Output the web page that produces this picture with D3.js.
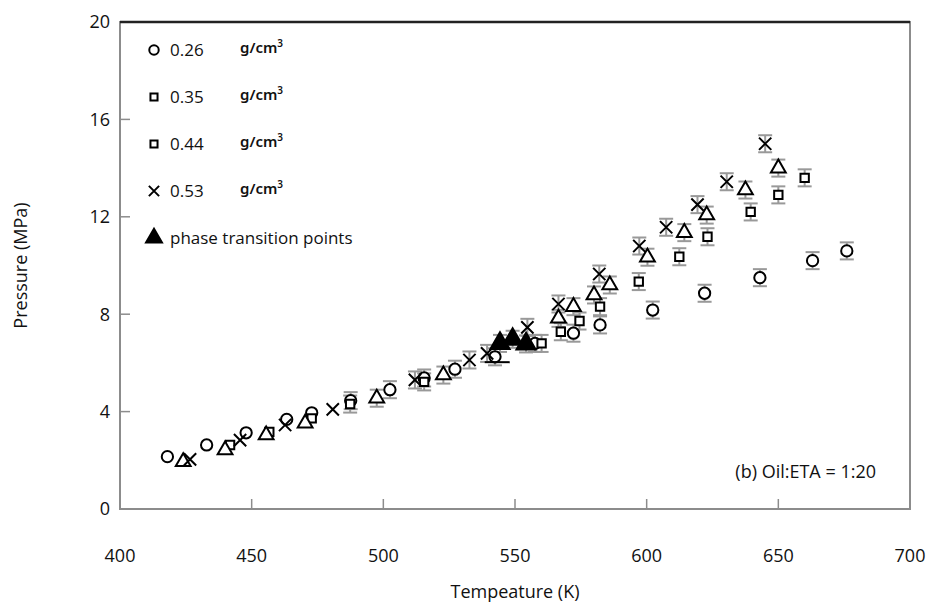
<!DOCTYPE html>
<html>
<head>
<meta charset="utf-8">
<script src="https://cdn.jsdelivr.net/npm/d3@7"></script>
<style>
  body { margin: 0; background: #fff; }
  text { font-family: "Open Sans", "Noto Sans", sans-serif; fill: #111; }
</style>
</head>
<body>
<svg id="chart" width="932" height="610"></svg>
<script>
// data: [temperature K, pressure MPa]
var rho026 = [[418,2.15],[432.9,2.63],[447.9,3.13],[463.3,3.68],[472.8,3.95],[487.6,4.45],[502.5,4.9],
  [515.5,5.38],[527.2,5.74],[542.4,6.25],[557.6,6.8],[572.2,7.22],[582.3,7.56],[602.3,8.17],[622,8.86],
  [643,9.5],[663,10.2],[676,10.6]];
var rho035 = [[441.8,2.63],[456.7,3.17],[472.8,3.72],[487.4,4.31],[515.5,5.22],[560.1,6.8],[567.4,7.28],
  [574.5,7.72],[582.3,8.31],[597,9.34],[612.4,10.36],[623.1,11.18],[639.5,12.2],[650,12.9],[660,13.6]];
var rho044 = [[424,1.94],[439.9,2.42],[455.5,3.04],[470.3,3.52],[497.5,4.55],[522.8,5.5],[566.5,7.83],
  [572.2,8.31],[580,8.79],[586,9.2],[600.3,10.34],[614.3,11.35],[622.8,12.07],[637.5,13.1],[650,14.0]];
var rho053 = [[426.6,2.04],[445.6,2.83],[462.7,3.45],[480.8,4.09],[512,5.3],[532.7,6.12],[539.4,6.39],
  [554.7,7.46],[566.5,8.42],[582,9.65],[597.2,10.8],[607.4,11.57],[619.3,12.5],[630.4,13.44],[645,15.0]];
var phasePts = [[544.3,6.8],[549.1,6.97],[554.2,6.78]];
var strayDash = [[538.5,6.03],[548,6.03]];

var legendLabels = ["0.26", "0.35", "0.44", "0.53", "phase transition points"];
var xTicks = [400, 450, 500, 550, 600, 650, 700];
var yTicks = [0, 4, 8, 12, 16, 20];
var errP = 0.35;   // fixed error bar, shown from 485 K on
var errFrom = 485;

var margin = { top: 22, right: 22, bottom: 101, left: 120 };
var svg = d3.select("#chart");
var width = 932 - margin.left - margin.right;
var height = 610 - margin.top - margin.bottom;

var x = d3.scaleLinear().domain([400, 700]).range([0, width]);
var y = d3.scaleLinear().domain([0, 20]).range([height, 0]);

var g = svg.append("g").attr("transform", "translate(" + margin.left + "," + margin.top + ")");

// frame
g.append("rect").attr("width", width).attr("height", height)
  .attr("fill", "none").attr("stroke", "#8c8c8c").attr("stroke-width", 2);
g.append("line").attr("x1", 0).attr("x2", width).attr("y1", 0).attr("y2", 0)
  .attr("stroke", "#222").attr("stroke-width", 2.5);

// inner ticks
g.selectAll(".yt").data(yTicks.slice(1, -1)).enter().append("line")
  .attr("x1", 0).attr("x2", 10).attr("y1", d => y(d)).attr("y2", d => y(d))
  .attr("stroke", "#8c8c8c").attr("stroke-width", 1.5);
g.selectAll(".xt").data(xTicks.slice(1, -1)).enter().append("line")
  .attr("x1", d => x(d)).attr("x2", d => x(d)).attr("y1", height).attr("y2", height - 10)
  .attr("stroke", "#8c8c8c").attr("stroke-width", 1.5);

// tick labels
g.selectAll(".yl").data(yTicks).enter().append("text")
  .attr("x", -10).attr("y", d => y(d)).attr("dy", "0.35em")
  .attr("text-anchor", "end").attr("font-size", 18).text(d => d);
g.selectAll(".xl").data(xTicks).enter().append("text")
  .attr("x", d => x(d)).attr("y", height + 53)
  .attr("text-anchor", "middle").attr("font-size", 18).text(d => d);

// axis titles
svg.append("text").attr("x", margin.left + width / 2).attr("y", 598)
  .attr("text-anchor", "middle").attr("font-size", 18).text("Tempeature (K)");
svg.append("text").attr("transform", "translate(27," + (margin.top + height / 2) + ") rotate(-90)")
  .attr("text-anchor", "middle").attr("font-size", 18).text("Pressure (MPa)");

// error bars
var allPts = rho026.concat(rho035, rho044, rho053, phasePts).filter(d => d[0] >= errFrom);
var eb = g.append("g").attr("stroke", "#999").attr("stroke-width", 2);
allPts.forEach(function (d) {
  var cx = x(d[0]);
  eb.append("line").attr("x1", cx).attr("x2", cx).attr("y1", y(d[1] - errP)).attr("y2", y(d[1] + errP));
  [d[1] - errP, d[1] + errP].forEach(function (v) {
    eb.append("line").attr("x1", cx - 7).attr("x2", cx + 7).attr("y1", y(v)).attr("y2", y(v));
  });
});

function drawSeries(data, sym, filled) {
  g.append("g").selectAll("path").data(data).enter().append("path")
    .attr("transform", d => "translate(" + x(d[0]) + "," + y(d[1]) + ")")
    .attr("d", sym)
    .attr("fill", filled ? "#000" : "#fff")
    .attr("stroke", "#000").attr("stroke-width", 2);
}
drawSeries(rho026, d3.symbol().type(d3.symbolCircle).size(100), false);
drawSeries(rho035, d3.symbol().type(d3.symbolSquare).size(70), false);
drawSeries(rho044, d3.symbol().type(d3.symbolTriangle).size(95), false);
drawSeries(rho053, d3.symbol().type(d3.symbolTimes).size(100), false);
drawSeries(phasePts, d3.symbol().type(d3.symbolTriangle).size(160), true);

g.append("path").datum(strayDash)
  .attr("d", d3.line().x(d => x(d[0])).y(d => y(d[1])))
  .attr("stroke", "#000").attr("stroke-width", 2).attr("fill", "none");

// legend
var legendSyms = [
  d3.symbol().type(d3.symbolCircle).size(70),
  d3.symbol().type(d3.symbolSquare).size(50),
  d3.symbol().type(d3.symbolSquare).size(50),
  d3.symbol().type(d3.symbolTimes).size(70),
  d3.symbol().type(d3.symbolTriangle).size(110)
];
var lg = svg.append("g");
legendLabels.forEach(function (lab, i) {
  var ly = 50 + i * 47;
  lg.append("path").attr("transform", "translate(154," + ly + ")")
    .attr("d", legendSyms[i])
    .attr("fill", i === 4 ? "#000" : "none").attr("stroke", "#000").attr("stroke-width", 2);
  lg.append("text").attr("x", 170).attr("y", ly).attr("dy", "0.35em")
    .attr("font-size", 17).text(lab);
  if (i < 4) {
    var u = lg.append("text").attr("x", 240).attr("y", ly - 2).attr("dy", "0.3em")
      .style("font-family", "'Noto Sans', sans-serif").style("font-weight", 600)
      .attr("font-size", 15).text("g/cm");
    u.append("tspan").attr("dy", "-0.55em").attr("font-size", 10).text("3");
  }
});

svg.append("text").attr("x", 876).attr("y", 478).attr("text-anchor", "end")
  .attr("font-size", 18).text("(b) Oil:ETA = 1:20");
</script>
</body>
</html>
